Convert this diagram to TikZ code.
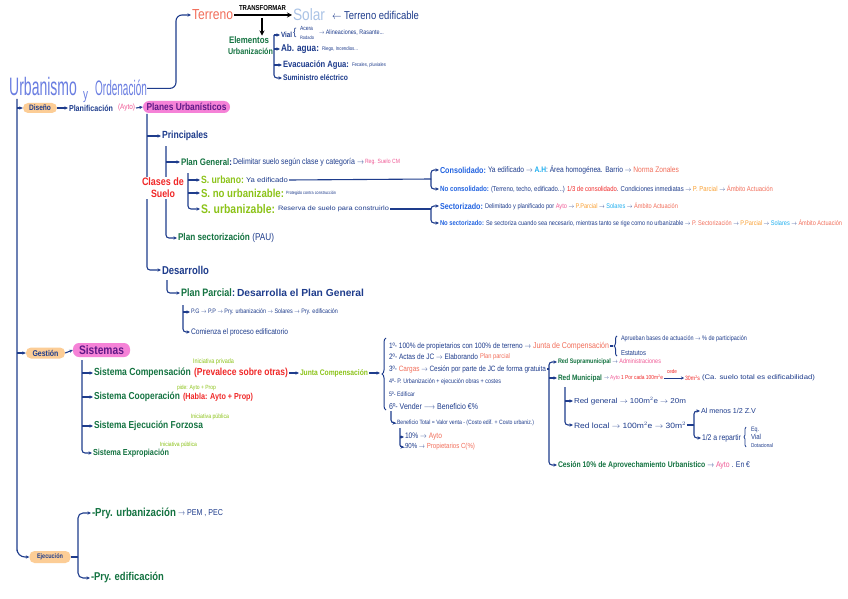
\documentclass[tikz,border=0pt]{standalone}
\usepackage{fontspec}
\usepackage{graphicx}
\setmainfont{Liberation Sans}
\usetikzlibrary{arrows.meta,decorations.pathreplacing}
\definecolor{cNavy}{RGB}{30,60,140}
\definecolor{cDGreen}{RGB}{20,115,65}
\definecolor{cLGreen}{RGB}{140,195,25}
\definecolor{cRed}{RGB}{240,40,40}
\definecolor{cSalmon}{RGB}{242,110,90}
\definecolor{cPink}{RGB}{240,90,150}
\definecolor{cBlue}{RGB}{35,100,225}
\definecolor{cCyan}{RGB}{30,175,240}
\definecolor{cOrange}{RGB}{250,160,50}
\definecolor{cTitle}{RGB}{105,125,225}
\definecolor{cSolar}{RGB}{170,195,230}
\definecolor{cPillO}{RGB}{252,205,150}
\definecolor{cPillP}{RGB}{245,130,215}
\definecolor{cPurp}{RGB}{95,25,135}
\newcommand\wtxt[3][1.2]{\resizebox{#2pt}{!}{\scalebox{1}[#1]{#3}}}
\newcommand\fsz[1]{\fontsize{#1}{#1}\selectfont}
\tikzset{
  t/.style={anchor=west, inner sep=0pt, outer sep=1pt},
  ln/.style={draw=cNavy, line width=1.1pt},
  ar/.style={ln, -{Stealth[length=3.5pt,width=3.2pt]}},
  bk/.style={draw=black, line width=1.3pt, -{Stealth[length=5pt,width=5pt]}},
  br/.style={ln, line width=1pt, decorate, decoration={brace, amplitude=4pt}},
  pillO/.style={fill=cPillO, rounded corners=5pt, inner sep=0pt},
  pillP/.style={fill=cPillP, rounded corners=6pt, inner sep=0pt},
}
\begin{document}
\begin{tikzpicture}[x=1pt,y=-1pt]
\fill[white] (0,0) rectangle (848,599);
\useasboundingbox (0,0) rectangle (848,599);

% ---------- title ----------
\node[anchor=base west, inner sep=0] (urb) at (9,96) {\scalebox{1}[1.8]{\fsz{14}\color{cTitle}Urbanismo}};
\node[anchor=base west, inner sep=0] (yy) at (83,100) {\scalebox{1}[1.5]{\fsz{10}\color{cTitle}y}};
\node[anchor=base west, inner sep=0] (ord) at (95,96) {\scalebox{1}[2.1]{\fsz{10}\color{cTitle}Ordenación}};
\coordinate (tlc) at (176,91);

% ---------- top: terreno ----------
\node[t] (ter) at (191,15) {\wtxt{41}{\color{cSalmon}Terreno}};
\node[t] (trf) at (238,8) {\wtxt{47}{\bfseries TRANSFORMAR}};
\node[t] (sol) at (292,15) {\wtxt{32}{\color{cSolar}Solar}};
\node[t] (tedif) at (331,15) {\wtxt{87}{\color{cNavy}$\leftarrow$ Terreno edificable}};
\draw[bk] (ter.east) -- (sol.west);
\coordinate (tdn) at (262,18);

\node[t] (eu1) at (228,40) {\wtxt{40}{\bfseries\color{cDGreen}Elementos}};
\node[t] (eu2) at (227,51) {\wtxt{45}{\bfseries\color{cDGreen}Urbanización}};
\draw[bk] (tdn) -- (eu1.north -| tdn);

\node[t] (vial) at (280,35) {\wtxt{11}{\bfseries\color{cNavy}Vial}};
\node[t] (vbr) at (292,33) {\fsz{10}\color{cNavy}\{};
\node[t, outer sep=0pt] (acera) at (300,28) {\wtxt{13}{\color{cNavy}Acera}};
\node[t, outer sep=0pt] (rodado) at (300,38) {\wtxt{14}{\color{cNavy}Rodado}};
\node[t] (alin) at (318,33) {\wtxt{65}{\color{cNavy}$\rightarrow$ Alineaciones, Rasante...}};
\node[t] (abag) at (280,49) {\wtxt{38}{\bfseries\color{cNavy}Ab. agua:}};
\node[t] (riego) at (321,49) {\wtxt{36}{\color{cNavy}Riego, Incendios...}};
\node[t] (evac) at (282,65) {\wtxt{66}{\bfseries\color{cNavy}Evacuación Agua:}};
\node[t] (fec) at (351,65) {\wtxt{34}{\color{cNavy}Fecales, pluviales}};
\node[t] (sumi) at (282,78) {\wtxt{65}{\bfseries\color{cNavy}Suministro eléctrico}};
\coordinate (ebv) at (274,35);
\draw[ar, rounded corners=3pt] (ebv) |- (sumi.west);
\draw[ar] (vial.west -| ebv) -- (vial.west);
\draw[ar] (abag.west -| ebv) -- (abag.west);
\draw[ar] (evac.west -| ebv) -- (evac.west);

\draw[ar, rounded corners=6pt] (ord.east) -- (ord.east -| tlc) |- (ter.west);

% ---------- trunk ----------
\coordinate (tr0) at (17,99);
\coordinate (trb) at (17,543);

% ---------- Diseño ----------
\node[pillO, minimum width=34pt, minimum height=10pt] (dis) at (40,108) {\wtxt{22}{\bfseries\color{cNavy}Diseño}};
\node[t] (plf) at (68,108) {\wtxt{44}{\bfseries\color{cNavy}Planificación}};
\node[t] (ayto0) at (117,108) {\wtxt{17}{\color{cPink}(Ayto)}};
\node[pillP, minimum width=87pt, minimum height=12pt] (pu) at (186.5,107) {\wtxt{80}{\bfseries\color{cPurp}Planes Urbanísticos}};
\draw[ar] (dis.east) -- (plf.west);
\draw[ar] (ayto0.east) -- (pu.west);

\node[t] (prin) at (161,136) {\wtxt{46}{\bfseries\color{cNavy}Principales}};
\node[t] (desa) at (161,270) {\wtxt{47}{\bfseries\color{cNavy}Desarrollo}};
\coordinate (puv) at (147,114);
\draw[ar, rounded corners=3pt] (puv) |- (desa.west);
\draw[ar] (prin.west -| puv) -- (prin.west);

% Plan general
\node[t] (pg) at (180,162) {\wtxt{51}{\bfseries\color{cDGreen}Plan General\textcolor{cNavy}{:}}};
\node[t] (pgd) at (232,162) {\wtxt{131}{\color{cNavy}Delimitar suelo según clase y categoría $\rightarrow$}};
\node[t] (pgr) at (364,162) {\wtxt{35}{\color{cPink}Reg. Suelo CM}};
\node[t] (psec) at (177,238) {\wtxt{96}{\bfseries\color{cDGreen}Plan sectorización \textcolor{cNavy}{\mdseries(PAU)}}};
\coordinate (prv) at (166,146);
\draw[ar, rounded corners=3pt] (prv) |- (psec.west);
\draw[ar] (pg.west -| prv) -- (pg.west);
\node[fill=white, inner sep=1pt, align=center] (cls) at (163,188) {\wtxt{42}{\bfseries\color{cRed}Clases de}\\\wtxt{24}{\bfseries\color{cRed}Suelo}};

% clases de suelo
\node[t] (surb) at (200,180) {\wtxt{43}{\bfseries\color{cLGreen}S. urbano:}};
\node[t] (surbd) at (245,180) {\wtxt[0.9]{42}{\color{cNavy}Ya edificado}};
\node[t] (snou) at (200,193) {\wtxt{83}{\bfseries\color{cLGreen}S. no urbanizable:}};
\node[t] (snoud) at (285,193) {\wtxt{50}{\color{cNavy}Protegido contra construcción}};
\node[t] (surbz) at (200,209) {\wtxt{74}{\bfseries\color{cLGreen}S. urbanizable:}};
\node[t] (surbzd) at (277,209) {\wtxt[0.85]{111}{\color{cNavy}Reserva de suelo para construirlo}};
\coordinate (sv) at (188,173);
\draw[ar, rounded corners=3pt] (sv) |- (surbz.west);
\draw[ar] (surb.west -| sv) -- (surb.west);
\draw[ar] (snou.west -| sv) -- (snou.west);

% consolidado
\node[t] (cons) at (439,170) {\wtxt{46}{\bfseries\color{cBlue}Consolidado:}};
\node[t] (consd) at (487,170) {\wtxt{191}{\color{cNavy}Ya edificado $\rightarrow$ \textcolor{cCyan}{\bfseries A.H}: Área homogénea. Barrio $\rightarrow$ \textcolor{cSalmon}{Norma Zonales}}};
\node[t] (ncons) at (439,189) {\wtxt{49}{\bfseries\color{cBlue}No consolidado:}};
\node[t] (nconsd) at (490,189) {\wtxt{282}{\color{cNavy}(Terreno, techo, edificado...) \textcolor{cRed}{1/3 de consolidado}. Condiciones inmediatas $\rightarrow$ \textcolor{cOrange}{P. Parcial} $\rightarrow$ \textcolor{cSalmon}{Ámbito Actuación}}};
\coordinate (br1) at (431,179);
\draw[ln] (surbd.east) -- (br1);
\draw[ar, rounded corners=3pt] (br1) |- (cons.west);
\draw[ar, rounded corners=3pt] (br1) |- (ncons.west);

\node[t] (sect) at (439,206) {\wtxt{43}{\bfseries\color{cBlue}Sectorizado:}};
\node[t] (sectd) at (484,206) {\wtxt{193}{\color{cNavy}Delimitado y planificado por \textcolor{cPink}{Ayto} $\rightarrow$ \textcolor{cOrange}{P.Parcial} $\rightarrow$ \textcolor{cCyan}{Solares} $\rightarrow$ \textcolor{cSalmon}{Ámbito Actuación}}};
\node[t] (nsect) at (439,223) {\wtxt{44}{\bfseries\color{cBlue}No sectorizado:}};
\node[t] (nsectd) at (485,223) {\wtxt{356}{\color{cNavy}Se sectoriza cuando sea necesario, mientras tanto se rige como no urbanizable $\rightarrow$ \textcolor{cSalmon}{P. Sectorización} $\rightarrow$ \textcolor{cOrange}{P.Parcial} $\rightarrow$ \textcolor{cCyan}{Solares} $\rightarrow$ \textcolor{cSalmon}{Ámbito Actuación}}};
\coordinate (br2) at (431,209);
\draw[ln] (surbzd.east) -- (br2);
\draw[ar, rounded corners=3pt] (br2) |- (sect.west);
\draw[ar, rounded corners=3pt] (br2) |- (nsect.west);

% desarrollo
\node[t] (pp) at (180,293) {\wtxt{54}{\bfseries\color{cDGreen}Plan Parcial\textcolor{cNavy}{:}}};
\node[t] (ppd) at (236,293) {\wtxt[1.0]{127}{\bfseries\color{cNavy}Desarrolla el Plan General}};
\coordinate (dv) at (167,280);
\draw[ar, rounded corners=3pt] (dv) |- (pp.west);
\node[t] (pgpp) at (190,312) {\wtxt{147}{\color{cNavy}P.G $\rightarrow$ P.P $\rightarrow$ Pry. urbanización $\rightarrow$ Solares $\rightarrow$ Pry. edificación}};
\node[t] (com) at (190,332) {\wtxt{97}{\color{cNavy}Comienza el proceso edificatorio}};
\coordinate (pv) at (183,305);
\draw[ar, rounded corners=3pt] (pv) |- (com.west);
\draw[ar] (pgpp.west -| pv) -- (pgpp.west);

% ---------- Gestión ----------
\node[pillO, minimum width=39pt, minimum height=11pt] (ges) at (45.5,353) {\wtxt{26}{\bfseries\color{cNavy}Gestión}};
\node[pillP, minimum width=57pt, minimum height=14pt] (sis) at (101.5,350) {\wtxt{45}{\bfseries\color{cPurp}Sistemas}};
\draw[ar] (ges.east) -- (sis.west);

\node[t] (scomp) at (93,373) {\wtxt{97}{\bfseries\color{cDGreen}Sistema Compensación}};
\node[t] (ipriv) at (192,362) {\wtxt{41}{\color{cLGreen}Iniciativa privada}};
\node[t] (prev) at (193,373) {\wtxt{94}{\bfseries\color{cRed}(Prevalece sobre otras)}};
\node[t] (junta) at (299,373) {\wtxt{68}{\bfseries\color{cLGreen}Junta Compensación}};
\draw[ar] (prev.east) -- (junta.west);
\node[t] (scoop) at (93,397) {\wtxt{86}{\bfseries\color{cDGreen}Sistema Cooperación}};
\node[t] (pide) at (176,388) {\wtxt{39}{\color{cLGreen}pide: Ayto + Prop}};
\node[t] (hab) at (182,397) {\wtxt{70}{\bfseries\color{cRed}(Habla: Ayto + Prop)}};
\node[t] (sejf) at (93,426) {\wtxt{109}{\bfseries\color{cDGreen}Sistema Ejecución Forzosa}};
\node[t] (ipub1) at (190,417) {\wtxt{38}{\color{cLGreen}Iniciativa pública}};
\node[t] (sexp) at (92,453) {\wtxt{76}{\bfseries\color{cDGreen}Sistema Expropiación}};
\node[t] (ipub2) at (159,445) {\wtxt{37}{\color{cLGreen}Iniciativa pública}};
\coordinate (sv2) at (82,360);
\draw[ar, rounded corners=3pt] (sv2) |- (sexp.west);
\draw[ar] (scomp.west -| sv2) -- (scomp.west);
\draw[ar] (scoop.west -| sv2) -- (scoop.west);
\draw[ar] (sejf.west -| sv2) -- (sejf.west);

% middle column
\coordinate (jbr) at (380,373);
\draw[ar] (junta.east) -- (jbr);
\draw[br] (386,410) -- (386,338);
\node[t] (m1) at (388,346) {\wtxt{142}{\color{cNavy}1º- 100\% de propietarios con 100\% de terreno $\rightarrow$}};
\node[t] (jc) at (532,346) {\wtxt{76}{\color{cSalmon}Junta de Compensación}};
\node[t] (m2) at (388,357) {\wtxt{89}{\color{cNavy}2º- Actas de JC $\rightarrow$ Elaborando}};
\node[t] (m2b) at (479,357) {\wtxt{30}{\color{cSalmon}Plan parcial}};
\node[t] (m3) at (388,369) {\wtxt{157}{\color{cNavy}3º- \textcolor{cSalmon}{Cargas} $\rightarrow$ Cesión por parte de JC de forma gratuita}};
\node[t] (m4) at (388,382) {\wtxt{112}{\color{cNavy}4º- P. Urbanización + ejecución obras + costes}};
\node[t] (m5) at (388,394) {\wtxt{26}{\color{cNavy}5º- Edificar}};
\node[t] (m6) at (388,406) {\wtxt{89}{\color{cNavy}6º- Vender $\longrightarrow$ Beneficio €\%}};
\node[t] (bt) at (396,423) {\wtxt{137}{\color{cNavy}Beneficio Total = Valor venta - (Costo edif. + Costo urbaniz.)}};
\coordinate (bv) at (391,411);
\draw[ar, rounded corners=3pt] (bv) |- (bt.west);
\node[t] (p10) at (404,437) {\wtxt{37}{\color{cNavy}10\% $\rightarrow$ \textcolor{cSalmon}{Ayto}}};
\node[t] (p90) at (404,447) {\wtxt{70}{\color{cNavy}90\% $\rightarrow$ \textcolor{cSalmon}{Propietarios C(\%)}}};
\coordinate (bv2) at (400,428);
\draw[ar, rounded corners=2pt] (bv2) |- (p90.west);
\draw[ar] (p10.west -| bv2) -- (p10.west);

% junta brace
\coordinate (jcb) at (613,346);
\draw[ln] (jc.east) -- (jcb);
\draw[br, decoration={brace, amplitude=3pt}] (617,356) -- (617,336);
\node[t] (apr) at (620,339) {\wtxt{126}{\color{cNavy}Aprueban bases de actuación $\rightarrow$ \% de participación}};
\node[t] (est) at (620,353) {\wtxt{25}{\color{cNavy}Estatutos}};

% right column
\node[t] (rsup) at (557,362) {\wtxt{103}{\bfseries\color{cDGreen}Red Supramunicipal \mdseries\color{cNavy}$\rightarrow$ \textcolor{cPink}{Administraciones}}};
\node[t] (rmun) at (557,378) {\wtxt{44}{\bfseries\color{cDGreen}Red Municipal}};
\node[t] (rmun2) at (603,378) {\wtxt{59}{\color{cNavy}$\rightarrow$ \textcolor{cPink}{Ayto} \textcolor{cRed}{1 Por cada 100m$^2$e}}};
\node[t] (r30) at (684,378) {\wtxt{15}{\color{cRed}30m$^2$s}};
\node[t] (cede) at (666,372) {\wtxt{10}{\color{cRed}cede}};
\draw[draw=cNavy, line width=0.8pt, -{Stealth[length=3pt,width=3pt]}] (rmun2.east) -- (r30.west);
\node[t] (rca) at (701,378) {\wtxt[0.85]{113}{\color{cNavy}(Ca. suelo total es edificabilidad)}};
\node[t] (ces) at (557,465) {\wtxt{192}{\color{cDGreen}\bfseries Cesión 10\% de Aprovechamiento Urbanístico \mdseries\color{cNavy}$\rightarrow$ \textcolor{cPink}{Ayto} . En €}};
\coordinate (rbm) at (549,369);
\draw[ln] (m3.east) -- (rbm);
\draw[ar, rounded corners=3pt] (rbm) |- (rsup.west);
\draw[ar, rounded corners=3pt] (rbm) |- (ces.west);
\draw[ar] (rmun.west -| rbm) -- (rmun.west);

\node[t] (rgen) at (573,401) {\wtxt[0.9]{112}{\color{cNavy}Red general $\rightarrow$ 100m$^2$e $\rightarrow$ 20m}};
\node[t] (rloc) at (573,425) {\wtxt[0.9]{112}{\color{cNavy}Red local $\rightarrow$ 100m$^2$e $\rightarrow$ 30m$^2$}};
\coordinate (rgv) at (565,387);
\draw[ar, rounded corners=3pt] (rgv) |- (rloc.west);
\draw[ar] (rgen.west -| rgv) -- (rgen.west);

\node[t] (zv) at (700,411) {\wtxt[1.0]{55}{\color{cNavy}Al menos 1/2 Z.V}};
\node[t] (rep) at (701,438) {\wtxt{39}{\color{cNavy}1/2 a repartir}};
\coordinate (zvb) at (694,425);
\draw[ln] (rloc.east) -- (zvb);
\draw[ar, rounded corners=3pt] (zvb) |- (zv.west);
\draw[ar, rounded corners=3pt] (zvb) |- (rep.west);
\draw[br, line width=0.8pt, decoration={brace, amplitude=2pt}] (746,447) -- (746,427);
\node[t] (eq) at (750,430) {\wtxt{8}{\color{cNavy}Eq.}};
\node[t] (vial2) at (750,437) {\wtxt{10}{\color{cNavy}Vial}};
\node[t] (dot) at (750,445) {\wtxt{22}{\color{cNavy}Dotacional}};

% ---------- Ejecución ----------
\node[pillO, minimum width=41pt, minimum height=12pt] (eje) at (50,557) {\wtxt{26}{\bfseries\color{cNavy}Ejecución}};
\node[t] (pu1) at (91,513) {\wtxt{84}{\bfseries\color{cDGreen}-Pry. urbanización}};
\node[t] (pem) at (177,513) {\wtxt{45}{\color{cNavy}$\rightarrow$ PEM , PEC}};
\node[t] (pe1) at (90,578) {\wtxt{73}{\bfseries\color{cDGreen}-Pry. edificación}};
\coordinate (ejv) at (78,557);
\draw[ln] (eje.east) -- (ejv);
\draw[ar, rounded corners=5pt] (ejv) |- (pu1.west);
\draw[ar, rounded corners=5pt] (ejv) |- (pe1.west);

% trunk lines
\draw[ar, rounded corners=8pt] (tr0) -- (trb) |- (eje.west);
\draw[ar] (dis.west -| tr0) -- (dis.west);
\draw[ar] (ges.west -| tr0) -- (ges.west);
\end{tikzpicture}
\end{document}
